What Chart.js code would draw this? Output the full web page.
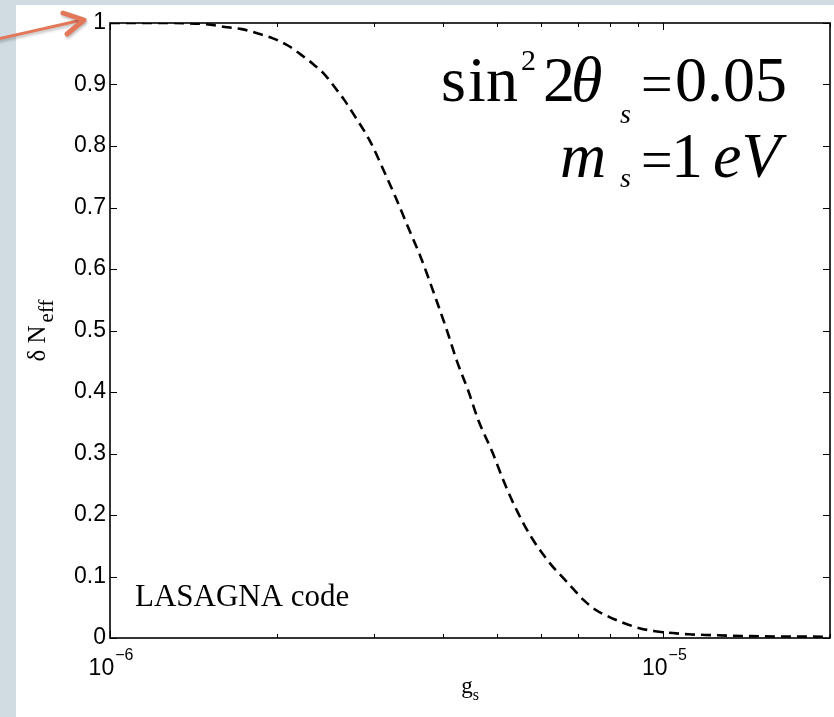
<!DOCTYPE html>
<html>
<head>
<meta charset="utf-8">
<script src="https://cdn.jsdelivr.net/npm/chart.js@4.4.1/dist/chart.umd.min.js"></script>
<style>
  html, body { margin: 0; padding: 0; width: 834px; height: 717px; overflow: hidden; background: #d1dce2; }
  #panel { position: absolute; left: 16px; top: 5px; right: 0; bottom: 0; background: #ffffff; }
  #wrap { position: absolute; left: 0; top: 0; width: 834px; height: 717px; }
</style>
</head>
<body>
<div id="panel"></div>
<div id="wrap"><canvas id="c"></canvas></div>
<script>
// ---- data ----
const gValues = [1.0e-6, 1.23e-6, 1.49e-6, 1.63e-6, 1.73e-6, 1.85e-6, 1.97e-6, 2.10e-6, 2.21e-6, 2.33e-6,
                 2.45e-6, 2.55e-6, 2.65e-6, 2.74e-6, 2.95e-6, 3.12e-6, 3.28e-6, 3.46e-6, 3.64e-6, 3.90e-6,
                 4.07e-6, 4.24e-6, 4.44e-6, 4.63e-6, 4.91e-6, 5.14e-6, 5.45e-6, 5.80e-6, 6.27e-6, 6.57e-6,
                 6.85e-6, 7.17e-6, 7.54e-6, 7.99e-6, 8.50e-6, 9.05e-6, 9.67e-6, 1.04e-5, 1.11e-5, 1.19e-5,
                 1.44e-5, 2.0e-5];
const deltaNeff = [1.0, 1.0, 0.998, 0.993, 0.990, 0.983, 0.975, 0.963, 0.949, 0.933,
                   0.915, 0.895, 0.875, 0.855, 0.808, 0.761, 0.717, 0.667, 0.620, 0.546,
                   0.498, 0.449, 0.402, 0.354, 0.302, 0.256, 0.205, 0.161, 0.119, 0.099,
                   0.081, 0.062, 0.046, 0.034, 0.024, 0.016, 0.011, 0.008, 0.006, 0.005,
                   0.003, 0.002];
const yTickValues = [0, 0.1, 0.2, 0.3, 0.4, 0.5, 0.6, 0.7, 0.8, 0.9, 1];
const yTickLabels = ['0', '0.1', '0.2', '0.3', '0.4', '0.5', '0.6', '0.7', '0.8', '0.9', '1'];
const xMajorTicks = [1e-6, 1e-5];
const xMajorExponents = ['\u22126', '\u22125'];
const xMinorTicks = [2e-6, 3e-6, 4e-6, 5e-6, 6e-6, 7e-6, 8e-6, 9e-6, 2e-5];

const SANS = "'Liberation Sans', Arial, Helvetica, sans-serif";
const SERIF = "'Liberation Serif', 'Times New Roman', serif";

const points = gValues.map((g, i) => ({ x: g, y: deltaNeff[i] }));

const decorations = {
  id: 'decorations',
  afterDraw(chart) {
    const ctx = chart.ctx;
    const a = chart.chartArea;
    const xs = chart.scales.x, ys = chart.scales.y;
    ctx.save();
    ctx.strokeStyle = '#000';
    ctx.fillStyle = '#000';

    // box
    ctx.lineWidth = 1.6;
    ctx.strokeRect(a.left, a.top, a.right - a.left, a.bottom - a.top);

    // y ticks (inward, both sides)
    ctx.lineWidth = 1;
    ctx.beginPath();
    ys.ticks.forEach(t => {
      const y = Math.round(ys.getPixelForValue(t.value)) + 0.5;
      ctx.moveTo(a.left, y); ctx.lineTo(a.left + 7, y);
      ctx.moveTo(a.right, y); ctx.lineTo(a.right - 7, y);
    });
    // x ticks (inward, bottom and top)
    xs.ticks.forEach(t => {
      const x = Math.round(xs.getPixelForValue(t.value)) + 0.5;
      const len = xMajorTicks.includes(t.value) ? 7 : 4;
      ctx.moveTo(x, a.bottom); ctx.lineTo(x, a.bottom - len);
      ctx.moveTo(x, a.top); ctx.lineTo(x, a.top + len);
    });
    ctx.stroke();

    // x tick labels 10^n
    ctx.textBaseline = 'alphabetic';
    ctx.textAlign = 'left';
    xMajorTicks.forEach((v, i) => {
      const px = xs.getPixelForValue(v);
      ctx.font = '23px ' + SANS;
      const wb = ctx.measureText('10').width;
      ctx.font = '16px ' + SANS;
      const we = ctx.measureText(xMajorExponents[i]).width;
      const x0 = px + 1 - (wb + 1 + we) / 2;
      ctx.font = '23px ' + SANS;
      ctx.fillText('10', x0, a.bottom + 37);
      ctx.font = '16px ' + SANS;
      ctx.fillText(xMajorExponents[i], x0 + wb + 1, a.bottom + 22);
    });

    // x axis title g_s
    const cx = (a.left + a.right) / 2;
    ctx.font = '23px ' + SERIF;
    const wg = ctx.measureText('g').width;
    ctx.font = '16px ' + SERIF;
    const ws = ctx.measureText('s').width;
    const gx = cx - (wg + ws) / 2;
    ctx.font = '23px ' + SERIF;
    ctx.fillText('g', gx, a.bottom + 55);
    ctx.font = '16px ' + SERIF;
    ctx.fillText('s', gx + wg, a.bottom + 62);

    // y axis title δ N_eff (rotated)
    const cy = (a.top + a.bottom) / 2;
    ctx.save();
    ctx.translate(45, cy);
    ctx.rotate(-Math.PI / 2);
    ctx.font = '25px ' + SERIF;
    const wm = ctx.measureText('\u03b4 N').width;
    ctx.font = '21px ' + SERIF;
    const wsub = ctx.measureText('eff').width;
    const tx = -(wm + 3 + wsub) / 2;
    ctx.font = '25px ' + SERIF;
    ctx.fillText('\u03b4 N', tx, 0);
    ctx.font = '21px ' + SERIF;
    ctx.fillText('eff', tx + wm + 3, 8);
    ctx.restore();

    // annotation: sin^2 2θ_s = 0.05
    const L = a.left, T = a.top;
    ctx.font = '64px ' + SERIF;
    ctx.fillText('s', L + 331, T + 78);
    ctx.fillText('i', L + 358, T + 78);
    ctx.fillText('n', L + 376, T + 78);
    ctx.font = '30px ' + SERIF;
    ctx.fillText('2', L + 411, T + 47);
    ctx.font = '64px ' + SERIF;
    ctx.fillText('2', L + 433, T + 78);
    ctx.font = 'italic 64px ' + SERIF;
    ctx.fillText('\u03b8', L + 461, T + 78);
    ctx.font = 'italic 28px ' + SERIF;
    ctx.fillText('s', L + 510, T + 100);
    ctx.font = '56px ' + SERIF;
    ctx.fillText('=', L + 531, T + 80);
    ctx.font = '64px ' + SERIF;
    ctx.fillText('0.05', L + 565, T + 78);

    // annotation: m_s = 1 eV
    ctx.font = 'italic 64px ' + SERIF;
    ctx.fillText('m', L + 450, T + 154);
    ctx.font = 'italic 28px ' + SERIF;
    ctx.fillText('s', L + 510, T + 164);
    ctx.font = '56px ' + SERIF;
    ctx.fillText('=', L + 531, T + 156);
    ctx.font = '64px ' + SERIF;
    ctx.fillText('1', L + 561, T + 154);
    ctx.font = 'italic 64px ' + SERIF;
    ctx.fillText('eV', L + 603, T + 154);

    // LASAGNA code
    ctx.font = '31px ' + SERIF;
    ctx.fillText('LASAGNA code', L + 25, T + 583);

    // slide arrow
    ctx.strokeStyle = '#e2775a';
    ctx.lineCap = 'round';
    ctx.lineJoin = 'round';
    ctx.shadowColor = 'rgba(0,0,0,0.25)';
    ctx.shadowBlur = 3;
    ctx.shadowOffsetX = 1;
    ctx.shadowOffsetY = 2;
    ctx.lineWidth = 3;
    ctx.beginPath();
    ctx.moveTo(-2, 39);
    ctx.lineTo(82, 20);
    ctx.stroke();
    ctx.lineWidth = 5;
    ctx.beginPath();
    ctx.moveTo(63, 13);
    ctx.lineTo(84, 20);
    ctx.lineTo(67, 34);
    ctx.stroke();
    ctx.restore();
  }
};

new Chart(document.getElementById('c'), {
  type: 'line',
  data: {
    datasets: [{
      data: points,
      borderColor: '#000',
      borderWidth: 2.6,
      borderDash: [10, 6],
      pointRadius: 0,
      fill: false,
      cubicInterpolationMode: 'monotone'
    }]
  },
  options: {
    animation: false,
    responsive: true,
    maintainAspectRatio: false,
    layout: { padding: { left: 0, top: 23, right: 4, bottom: 0 } },
    plugins: { legend: { display: false }, tooltip: { enabled: false } },
    scales: {
      x: {
        type: 'logarithmic',
        position: 'bottom',
        min: 1e-6,
        max: 2e-5,
        grid: { display: false, drawTicks: false },
        border: { display: false },
        ticks: { display: false },
        afterBuildTicks: s => { s.ticks = [...xMajorTicks, ...xMinorTicks].sort((p, q) => p - q).map(v => ({ value: v })); },
        afterFit: s => { s.height = 79; }
      },
      y: {
        type: 'linear',
        min: 0,
        max: 1,
        grid: { display: false, drawTicks: false },
        border: { display: false },
        afterBuildTicks: s => { s.ticks = yTickValues.map(v => ({ value: v })); },
        ticks: {
          padding: 4,
          color: '#000',
          font: { family: SANS, size: 23 },
          callback: (v, i) => yTickLabels[i]
        },
        afterFit: s => { s.width = 110; }
      }
    }
  },
  plugins: [decorations]
});
</script>
</body>
</html>
